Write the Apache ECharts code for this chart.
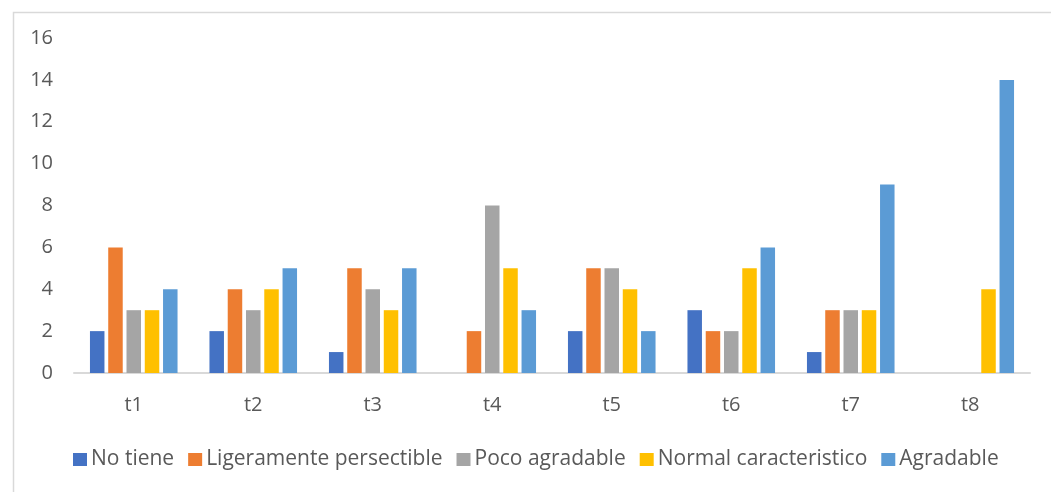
<!DOCTYPE html>
<html>
<head>
<meta charset="utf-8">
<script src="https://cdn.jsdelivr.net/npm/echarts@6/dist/echarts.min.js"></script>
<style>
  html, body { margin: 0; padding: 0; background: #fff; }
  #chart { width: 1051px; height: 492px; }
</style>
</head>
<body>
<div id="chart"></div>
<script>
// Categories and per-series counts
const categories = ['t1', 't2', 't3', 't4', 't5', 't6', 't7', 't8'];
const seriesNames = ['No tiene', 'Ligeramente persectible', 'Poco agradable', 'Normal caracteristico', 'Agradable'];
const noTiene      = [2, 2, 1, 0, 2, 3, 1, 0];
const ligeramente  = [6, 4, 5, 2, 5, 2, 3, 0];
const pocoAgrad    = [3, 3, 4, 8, 5, 2, 3, 0];
const normalCarac  = [3, 4, 3, 5, 4, 5, 3, 4];
const agradable    = [4, 5, 5, 3, 2, 6, 9, 14];
const yTicks = [0, 2, 4, 6, 8, 10, 12, 14, 16];

const values = [noTiene, ligeramente, pocoAgrad, normalCarac, agradable];
const colors = ['#4472C4', '#ED7D31', '#A5A5A5', '#FFC000', '#5B9BD5'];
const textColor = '#595959';
const fontFamily = 'Open Sans';

const chart = echarts.init(document.getElementById('chart'), null, { renderer: 'canvas' });

chart.setOption({
  animation: false,
  backgroundColor: '#fff',
  textStyle: { fontFamily: fontFamily },
  graphic: [{
    type: 'rect',
    left: 11, top: 10,
    shape: { width: 1100, height: 600 },
    style: { fill: 'none', stroke: '#d9d9d9', lineWidth: 1.5 },
    silent: true, z: -1
  }],
  grid: { left: 74, right: 21, top: 38, bottom: 119, containLabel: false },
  legend: {
    bottom: 17,
    left: 68,
    itemWidth: 14, itemHeight: 13,
    itemGap: 14,
    icon: 'rect',
    textStyle: { color: textColor, fontSize: 21, fontFamily: fontFamily, padding: [0, 0, 0, -1] },
    data: seriesNames
  },
  xAxis: {
    type: 'category',
    data: categories,
    axisLine: { lineStyle: { color: '#d9d9d9', width: 2 } },
    axisTick: { show: false },
    axisLabel: { color: textColor, fontSize: 20, margin: 22 }
  },
  yAxis: {
    type: 'value',
    min: yTicks[0], max: yTicks[yTicks.length - 1], interval: 2,
    axisLine: { show: false },
    axisTick: { show: false },
    splitLine: { show: false },
    axisLabel: { color: textColor, fontSize: 20, margin: 21 }
  },
  series: seriesNames.map((name, i) => ({
    name: name,
    type: 'bar',
    data: values[i],
    barWidth: 14.5,
    barGap: '26%',
    itemStyle: { color: colors[i] }
  }))
});
</script>
</body>
</html>
